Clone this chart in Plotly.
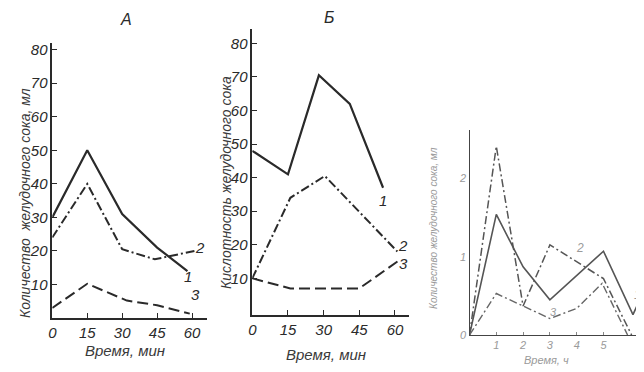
import plotly.graph_objects as go

W, H = 644, 372
OFF = 8  # default page margin of the browser around the figure

# ---- Panel A: amount of gastric juice, ml ----
a_t1 = [0, 15, 30, 45, 58]
a_y1 = [30, 50, 31, 21, 14]
a_t2 = [0, 15, 30, 44, 61]
a_y2 = [24, 40, 20.5, 17.5, 20]
a_t3 = [0, 15, 32, 45, 59]
a_y3 = [3, 10.2, 5.2, 3.8, 1.3]

# ---- Panel Б: acidity of gastric juice ----
b_t1 = [0, 15, 28, 41, 55]
b_y1 = [48, 41, 70.5, 62, 37]
b_t2 = [0, 16, 30.5, 61]
b_y2 = [10, 34, 40.5, 18]
b_t3 = [0, 16, 45, 62]
b_y3 = [10, 7, 7, 15.5]

# ---- Panel 3: amount of gastric juice, ml; time, h ----
c_t1 = [0, 1, 2, 3, 5, 6.1, 6.3]
c_y1 = [0, 1.54, 0.87, 0.45, 1.07, 0.26, 0.41]
c_t2 = [0, 1, 2, 3, 5, 6.05]
c_y2 = [0, 2.41, 0.37, 1.15, 0.72, 0]
c_t3 = [0, 1, 2, 3, 4, 4.95, 5.9]
c_y3 = [0, 0.53, 0.37, 0.21, 0.34, 0.66, 0]

ab_ticks_y = [10, 20, 30, 40, 50, 60, 70, 80]
ab_ticks_x = [0, 15, 30, 45, 60]
c_ticks_x = [1, 2, 3, 4, 5]
c_ticks_y = [0, 1, 2]

INK = "#2a2a2a"
FAINT = "#9a9a9a"
FONT = "Liberation Sans Narrow, Liberation Sans, DejaVu Sans, sans-serif"

DASH2 = "9px,3px,2px,3px"
DASH3 = "11px,5px"


def fx(px):
    return (px - OFF) / W


def fy(py):
    return 1 - (py - OFF) / H


fig = go.Figure()


def add(t, y, xa, ya, dash, color, width):
    fig.add_trace(go.Scatter(x=t, y=y, xaxis=xa, yaxis=ya, mode="lines",
                             line=dict(color=color, width=width, dash=dash),
                             showlegend=False, hoverinfo="skip"))


add(a_t1, a_y1, "x", "y", "solid", INK, 2.2)
add(a_t2, a_y2, "x", "y", DASH2, INK, 2)
add(a_t3, a_y3, "x", "y", DASH3, INK, 2)
add(b_t1, b_y1, "x2", "y2", "solid", INK, 2.2)
add(b_t2, b_y2, "x2", "y2", DASH2, INK, 2)
add(b_t3, b_y3, "x2", "y2", DASH3, INK, 2)
add(c_t1, c_y1, "x3", "y3", "solid", "#555", 1.6)
add(c_t2, c_y2, "x3", "y3", "8px,3px,2px,3px", "#555", 1.5)
add(c_t3, c_y3, "x3", "y3", "8px,3px,2px,3px", "#666", 1.4)

tickfont = dict(family=FONT, size=15, color=INK, style="italic")
tickfont_c = dict(family=FONT, size=11, color=FAINT, style="italic")

common = dict(showgrid=False, zeroline=False, showline=True, linecolor=INK,
              linewidth=1.5, ticks="inside", ticklen=5, tickwidth=1.2,
              tickcolor=INK, tickfont=tickfont, automargin=False)

fig.update_layout(
    width=W, height=H,
    margin=dict(l=0, r=0, t=0, b=0, pad=0, autoexpand=False),
    paper_bgcolor="white", plot_bgcolor="rgba(0,0,0,0)",
    xaxis=dict(domain=[fx(52.3), fx(207)], range=[0, 66.4], anchor="y",
               tickvals=ab_ticks_x, **common),
    yaxis=dict(domain=[fy(318), fy(43)], range=[0, 82.0], anchor="x",
               tickvals=ab_ticks_y, **common),
    xaxis2=dict(domain=[fx(252.3), fx(409)], range=[0, 65.9], anchor="y2",
                tickvals=ab_ticks_x, **common),
    yaxis2=dict(domain=[fy(315), fy(29)], range=[-0.92, 84.3], anchor="x2",
                tickvals=ab_ticks_y, **common),
    xaxis3=dict(domain=[fx(469.5), fx(641)], range=[0, 6.4], anchor="y3",
                tickvals=c_ticks_x, showgrid=False, zeroline=False,
                showline=True, linecolor="#444", linewidth=1.3,
                ticks="inside", ticklen=3, tickcolor="#888",
                tickfont=tickfont_c, automargin=False),
    yaxis3=dict(domain=[fy(335), fy(130)], range=[0, 2.618], anchor="x3",
                tickvals=c_ticks_y, showgrid=False, zeroline=False,
                showline=True, linecolor="#444", linewidth=1.3,
                ticks="", tickfont=tickfont_c, automargin=False),
)

ann = []


def text(x, y, s, size, color=INK, angle=0, xref="paper", yref="paper",
         xanchor="center"):
    ann.append(dict(x=x, y=y, xref=xref, yref=yref, text=s, showarrow=False,
                    textangle=angle, xanchor=xanchor, yanchor="middle",
                    font=dict(family=FONT, size=size, color=color,
                              style="italic")))


# panel titles
text(fx(126), fy(20), "А", 16)
text(fx(329), fy(18), "Б", 16)
# axis titles
text(fx(25), fy(203), "Количество  желудочного сока, мл", 14, "#3a3a3a", -90)
text(fx(226), fy(182), "Кислотность желудочного сока", 14, "#3a3a3a", -90)
text(fx(433), fy(228), "Количество желудочного сока, мл", 10, FAINT, -90)
text(fx(125), fy(350), "Время, мин", 15, "#3a3a3a")
text(fx(326), fy(354), "Время, мин", 15, "#3a3a3a")
text(fx(546), fy(360), "Время, ч", 11, FAINT)

# curve labels
text(63.4, 20.9, "2", 15, INK, 0, "x", "y")
text(58.3, 12.3, "1", 15, INK, 0, "x", "y")
text(61.4, 6.9, "3", 15, INK, 0, "x", "y")
text(54.8, 33.3, "1", 15, INK, 0, "x2", "y2")
text(63.5, 19.8, "2", 15, INK, 0, "x2", "y2")
text(63.5, 14.5, "3", 15, INK, 0, "x2", "y2")
text(4.13, 1.11, "2", 12, FAINT, 0, "x3", "y3")
text(3.15, 0.30, "3", 11, FAINT, 0, "x3", "y3")
text(fx(643), fy(295), "1", 12, FAINT, 0, "paper", "paper", "right")

fig.update_layout(annotations=ann)
fig.write_html("out.html")
